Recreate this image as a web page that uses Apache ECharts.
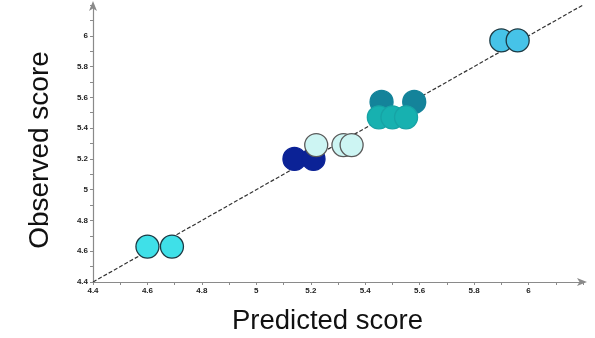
<!DOCTYPE html>
<html><head><meta charset="utf-8">
<script src="https://cdn.jsdelivr.net/npm/echarts@6/dist/echarts.min.js"></script>
<style>html,body{margin:0;padding:0;background:#fff}#c{width:595px;height:338px}</style>
</head><body><div id="c"></div>
<script>
const xTitle = 'Predicted score';
const yTitle = 'Observed score';
const diagonal = [[4.4, 4.4], [6.2, 6.2]];
const groupCyan = [[4.60, 4.63], [4.69, 4.63]];
const groupNavy = [[5.14, 5.20], [5.21, 5.20]];
const groupPale = [[5.22, 5.29], [5.32, 5.29], [5.35, 5.29]];
const groupTealDark = [[5.46, 5.57], [5.58, 5.57]];
const groupTeal = [[5.45, 5.47], [5.50, 5.47], [5.55, 5.47]];
const groupBlue = [[5.90, 5.97], [5.96, 5.97]];

const chart = echarts.init(document.getElementById('c'), null, {renderer: 'canvas'});
const labelStyle = {fontFamily: 'Liberation Sans, Arial', fontWeight: 'bold', fontSize: 8, color: '#222'};
function axis(extra) {
  return Object.assign({
    type: 'value', min: 4.4, max: 6.2, interval: 0.2,
    axisLine: {show: true, lineStyle: {color: '#8a8a8a', width: 1.2}, symbol: ['none', 'arrow'], symbolSize: [6, 10], symbolOffset: [0, 4]},
    axisTick: {show: true, length: 3, lineStyle: {color: '#8a8a8a'}},
    minorTick: {show: true, splitNumber: 2, length: 3, lineStyle: {color: '#8a8a8a'}},
    splitLine: {show: false},
    axisLabel: Object.assign({margin: 5, formatter: v => (Math.abs(v - 6.2) < 1e-6 ? '' : String(+v.toFixed(1)))}, labelStyle)
  }, extra);
}
function sc(data, fill, border) {
  return {type: 'scatter', data: data, symbolSize: 23, z: 3,
    itemStyle: {color: fill, borderColor: border, borderWidth: 1.3, opacity: 1}};
}
chart.setOption({
  animation: false,
  grid: {left: 93, right: 12, top: 5, bottom: 56},
  xAxis: axis({}),
  yAxis: axis({}),
  graphic: [
    {type: 'text', x: 327.5, y: 321, style: {text: xTitle, font: '27.5px "Liberation Sans", Arial', fill: '#111', align: 'center', verticalAlign: 'middle'}},
    {type: 'text', x: 40, y: 150, rotation: Math.PI / 2, style: {text: yTitle, font: '28px "Liberation Sans", Arial', fill: '#111', align: 'center', verticalAlign: 'middle'}}
  ],
  series: [
    {type: 'line', data: diagonal, symbol: 'none', z: 2, lineStyle: {color: '#333', width: 1.2, type: [4, 2]}},
    sc(groupCyan, '#3fe0e8', '#1d3a44'),
    sc(groupNavy, '#0b2296', '#0b2296'),
    sc(groupPale, '#cdf5f3', '#5a5a5a'),
    sc(groupTealDark, '#14839a', '#14839a'),
    sc(groupTeal, '#17b1b0', '#17a3a5'),
    sc(groupBlue, '#46c3e8', '#1d3a44')
  ]
});
</script></body></html>
